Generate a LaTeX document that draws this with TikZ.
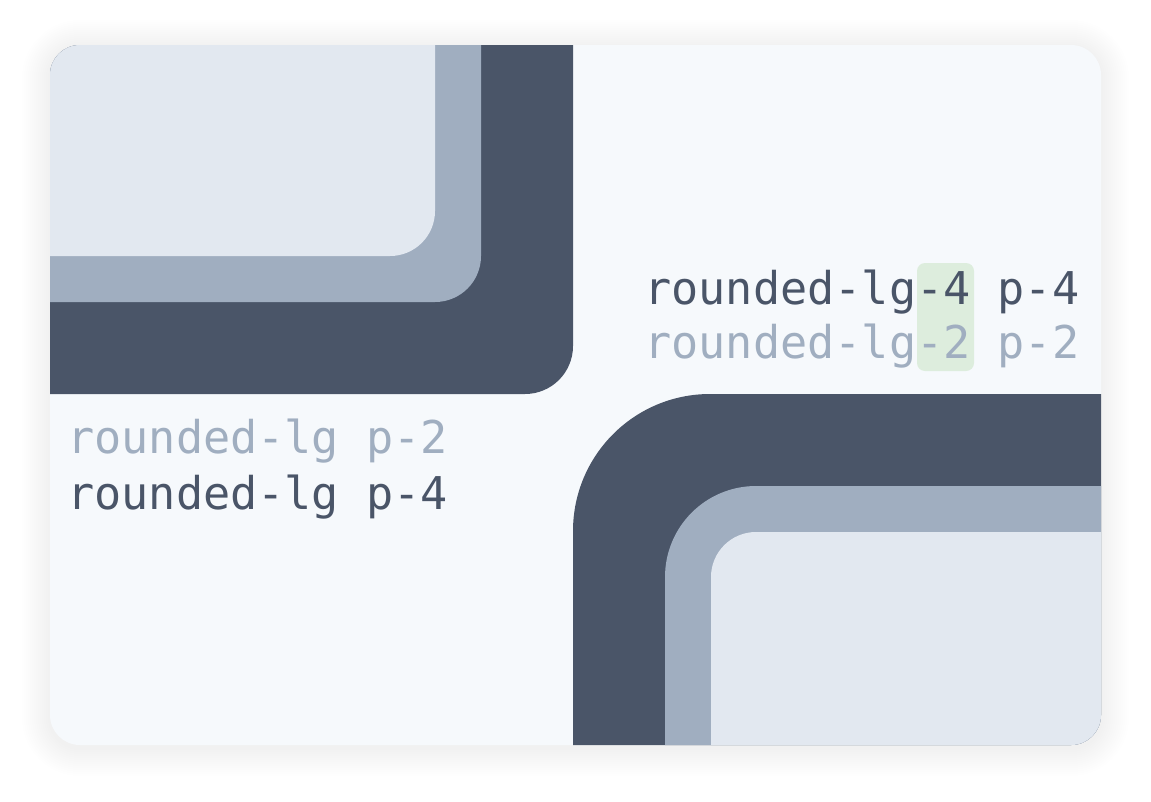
\documentclass[tikz,border=0pt]{standalone}
\usepackage{fontspec}
\usepackage{tikz}
\usetikzlibrary{positioning}
\newfontfamily\codefont{DejaVu Sans Mono}
\definecolor{slatedark}{HTML}{4A5568}
\definecolor{slatemid}{HTML}{A0AEC0}
\definecolor{slatelight}{HTML}{E2E8F0}
\definecolor{cardbg}{HTML}{F6F9FC}
\definecolor{markgreen}{HTML}{DDEDDD}
\tikzset{
	code/.style={anchor=base west, inner sep=0pt, font=\codefont\fontsize{25.7}{30}\selectfont},
}

\begin{document}
\begin{tikzpicture}[x=0.02cm, y=-0.02cm]

\useasboundingbox (0,0) rectangle (1151,801);
\fill[white] (0,0) rectangle (1151,801);

% Shadow
\foreach \i in {1,...,14}
	\fill[black, opacity=0.0035, rounded corners={(30+2*\i)*0.02cm}] (50-2*\i,45-2*\i+3) rectangle (1101+2*\i,745+2*\i+3);

% Card
\fill[cardbg, rounded corners=0.6cm] (50,45) rectangle (1101,745);

\begin{scope}
\clip[rounded corners=0.6cm] (50,45) rectangle (1101,745);

% Top-left frames
\fill[slatedark, rounded corners=0.96cm] (-100,-100) rectangle (573,394);
\fill[slatemid, rounded corners=0.92cm] (-100,-100) rectangle (481,302);
\fill[slatelight, rounded corners=0.9cm] (-100,-100) rectangle (435,256);

% Bottom-right frames
\fill[slatedark, rounded corners=2.74cm] (573,394) rectangle (1400,1000);
\fill[slatemid, rounded corners=1.82cm] (665,486) rectangle (1400,1000);
\fill[slatelight, rounded corners=0.9cm] (711,532) rectangle (1400,1000);
\end{scope}

% Highlight
\fill[markgreen, rounded corners=0.16cm] (917,263) rectangle (974,371);

% Labels right
\node [code, text=slatedark] (lgfour) at (644,304) {rounded-lg-4 p-4};
\node [code, text=slatemid] (lgtwo) at (644,358) {rounded-lg-2 p-2};

% Labels left
\node [code, text=slatemid] (ptwo) at (67,453) {rounded-lg p-2};
\node [code, text=slatedark] (pfour) at (67,509) {rounded-lg p-4};

\end{tikzpicture}
\end{document}
